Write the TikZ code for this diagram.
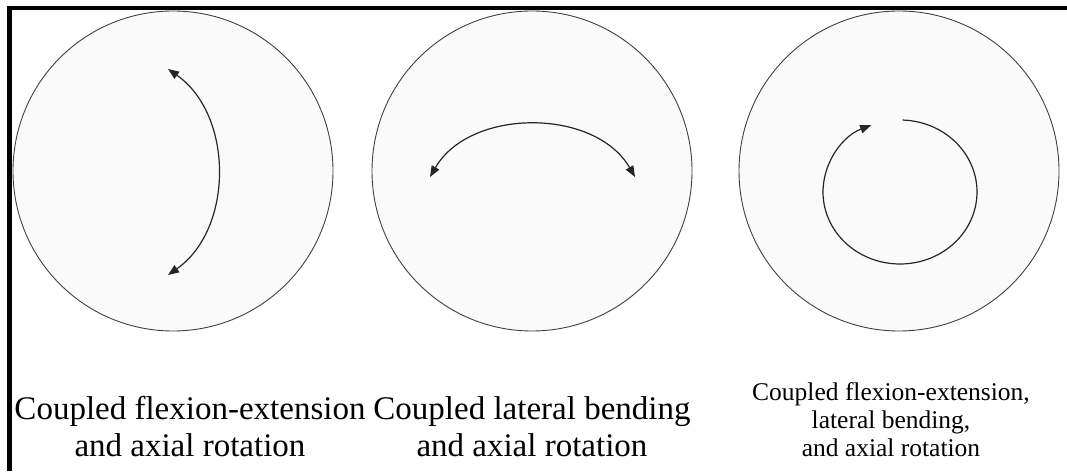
\documentclass[tikz,border=0pt]{standalone}
\usepackage{fontspec}
\setmainfont{Liberation Serif}
\usetikzlibrary{arrows.meta}

\begin{document}
\begin{tikzpicture}[x=1pt, y=1pt, >={Triangle[length=11pt,width=8.5pt]},
    disc/.style={circle, draw=black!75, line width=0.9pt, fill=black!2, minimum size=320pt, inner sep=0pt},
    turn/.style={<->, line width=1.2pt, black!85},
    lbl/.style={align=center, font=\fontsize{33}{37}\selectfont},
    lblsmall/.style={align=center, font=\fontsize{25.5}{28}\selectfont}]
  \useasboundingbox (0,0) rectangle (1067,471);
  \draw[line width=4.5pt] (9.5,0) -- (9.5,463) -- (1067,463);

  \node[disc] (d1) at (173,300) {};
  \node[disc] (d2) at (532,300) {};
  \node[disc] (d3) at (899,300) {};

  % flexion-extension
  \coordinate (a1) at (168,402);
  \coordinate (b1) at (168,196);
  \draw[turn] (a1) to[bend left=55] (b1);

  % lateral bending
  \coordinate (a2) at (430,294);
  \coordinate (b2) at (635,294);
  \draw[turn] (a2) to[bend left=60] (b2);

  % combined
  \coordinate (e3) at (900,279);
  \draw[->, line width=1.2pt, black!85] ([shift={(88:77 and 72)}]e3)
    arc[start angle=88, end angle=-248, x radius=77, y radius=72];

  \node[lbl] (t1) at (190,44) {Coupled flexion-extension\\and axial rotation};
  \node[lbl] (t2) at (532,44) {Coupled lateral bending\\and axial rotation};
  \node[lblsmall] (t3) at (891,51) {Coupled flexion-extension,\\lateral bending,\\and axial rotation};
\end{tikzpicture}
\end{document}
